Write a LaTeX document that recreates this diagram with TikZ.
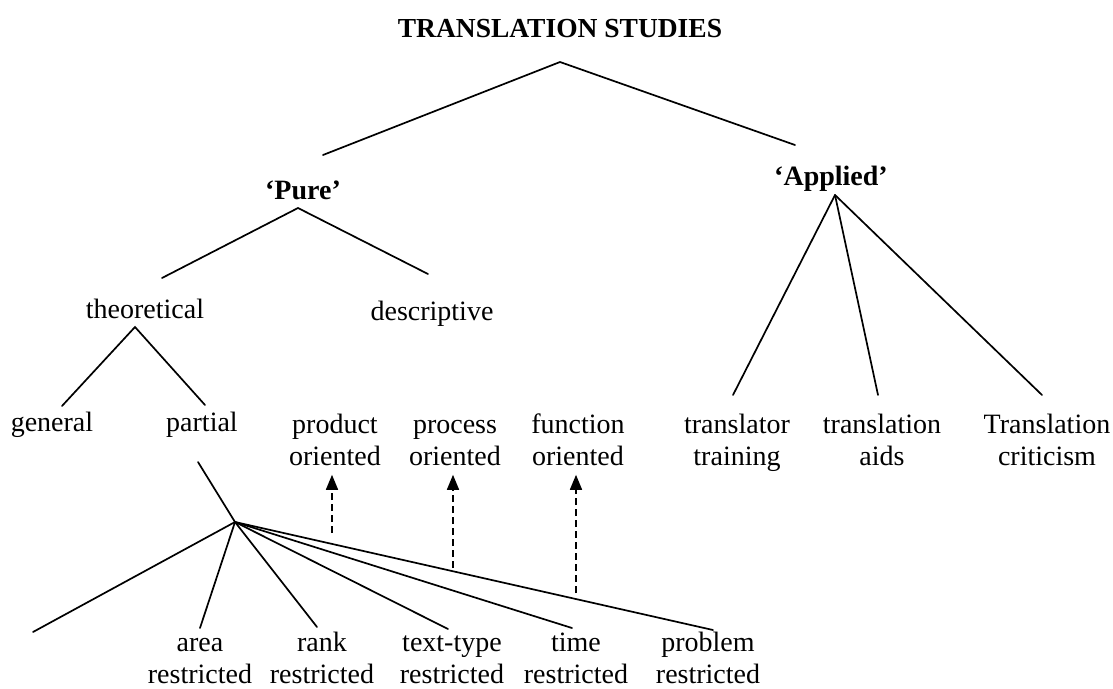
\documentclass[tikz,border=0pt]{standalone}
\usepackage{fontspec}
\setmainfont{Liberation Serif}
\usetikzlibrary{arrows.meta}
\newcommand\twoline[2]{\strut#1\\\strut#2}
\begin{document}
\begin{tikzpicture}[x=1pt,y=-1pt,
  txt/.style={font=\fontsize{28}{32}\selectfont, inner sep=0pt, align=center},
  head/.style={font=\fontsize{28}{32}\selectfont\bfseries, inner sep=0pt},
  branch/.style={line width=1.7pt, line cap=round},
  link/.style={line width=1.6pt, dash pattern=on 7pt off 4pt,
    -{Triangle[width=12pt,length=15pt]}}]
\useasboundingbox (0,0) rectangle (1113,688);

% headings
\node[head, font=\fontsize{27.5}{32}\selectfont\bfseries, anchor=base] (ts) at (560,37) {TRANSLATION STUDIES};
\node[head, anchor=base] (pure) at (303,199) {‘Pure’};
\node[head, anchor=base] (applied) at (831,185) {‘Applied’};

% second and third levels
\node[txt, anchor=base] (theo) at (145,318) {theoretical};
\node[txt, anchor=base] (desc) at (432,320) {descriptive};
\node[txt, anchor=base] (general) at (52,431) {general};
\node[txt, anchor=base] (partial) at (202,431) {partial};
\node[txt] (product) at (335,442.6) {\twoline{product}{oriented}};
\node[txt] (process) at (455,442.6) {\twoline{process}{oriented}};
\node[txt] (function) at (578,442.6) {\twoline{function}{oriented}};
\node[txt] (training) at (737,442.6) {\twoline{translator}{training}};
\node[txt] (aids) at (882,442.6) {\twoline{translation}{aids}};
\node[txt] (criticism) at (1047,442.6) {\twoline{Translation}{criticism}};

% restricted theories
\node[txt] (area) at (200,661) {\twoline{area}{restricted}};
\node[txt] (rank) at (322,661) {\twoline{rank}{restricted}};
\node[txt] (texttype) at (452,661) {\twoline{text-type}{restricted}};
\node[txt] (time) at (576,661) {\twoline{time}{restricted}};
\node[txt] (problem) at (708,661) {\twoline{problem}{restricted}};

% branch points and line ends
\coordinate (tsA) at (560,62);
\coordinate (tsL) at (323,155);
\coordinate (tsR) at (795,145);
\coordinate (pureA) at (298,208);
\coordinate (pureL) at (162,278);
\coordinate (pureR) at (428,274);
\coordinate (theoA) at (135,327);
\coordinate (theoL) at (62,406);
\coordinate (theoR) at (205,405);
\coordinate (partA) at (198,462);
\coordinate (hub) at (235,522);
\coordinate (hubOpen) at (33,632);
\coordinate (areaT) at (200,628);
\coordinate (rankT) at (317,627);
\coordinate (texttypeT) at (448,629);
\coordinate (timeT) at (572,628);
\coordinate (problemT) at (713,630);
\coordinate (appA) at (835,195);
\coordinate (trainT) at (733,395);
\coordinate (aidsT) at (878,395);
\coordinate (critT) at (1042,395);
\coordinate (prodB) at (332,533);
\coordinate (procB) at (453,568);
\coordinate (funcB) at (576,593);

% tree
\draw[branch] (tsL) -- (tsA) -- (tsR);
\draw[branch] (pureL) -- (pureA) -- (pureR);
\draw[branch] (theoL) -- (theoA) -- (theoR);
\draw[branch] (partA) -- (hub);
\draw[branch] (hub) -- (hubOpen);
\draw[branch] (hub) -- (areaT);
\draw[branch] (hub) -- (rankT);
\draw[branch] (hub) -- (texttypeT);
\draw[branch] (hub) -- (timeT);
\draw[branch] (hub) -- (problemT);
\draw[branch] (appA) -- (trainT);
\draw[branch] (appA) -- (aidsT);
\draw[branch] (appA) -- (critT);

% dashed links to descriptive studies
\draw[link] (prodB) -- (product.south -| prodB);
\draw[link] (procB) -- (process.south -| procB);
\draw[link] (funcB) -- (function.south -| funcB);
\end{tikzpicture}
\end{document}
